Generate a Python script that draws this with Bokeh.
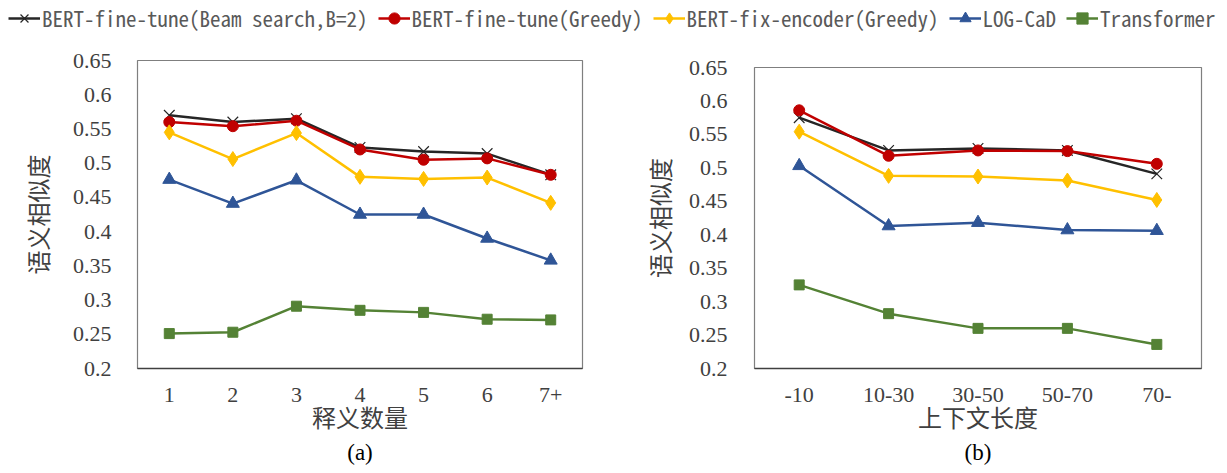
import numpy as np
from bokeh.plotting import figure
from bokeh.models import FactorRange, Range1d, FixedTicker, Legend, LegendItem, Label
from bokeh.layouts import column, row
from bokeh.embed import file_html
from bokeh.resources import INLINE

# ---------------- data ----------------
cats_a = ["1", "2", "3", "4", "5", "6", "7+"]
beam_a = [0.570, 0.560, 0.565, 0.523, 0.517, 0.514, 0.483]
greedy_a = [0.560, 0.554, 0.562, 0.520, 0.505, 0.507, 0.483]
fix_a = [0.545, 0.506, 0.544, 0.480, 0.477, 0.479, 0.442]
logcad_a = [0.476, 0.441, 0.475, 0.425, 0.425, 0.390, 0.358]
trans_a = [0.251, 0.253, 0.291, 0.285, 0.282, 0.272, 0.271]

cats_b = ["-10", "10-30", "30-50", "50-70", "70-"]
beam_b = [0.575, 0.526, 0.529, 0.526, 0.491]
greedy_b = [0.586, 0.518, 0.526, 0.525, 0.506]
fix_b = [0.554, 0.488, 0.487, 0.481, 0.452]
logcad_b = [0.503, 0.413, 0.418, 0.407, 0.406]
trans_b = [0.325, 0.282, 0.260, 0.260, 0.236]

series_names = ["BERT-fine-tune(Beam search,B=2)", "BERT-fine-tune(Greedy)",
                "BERT-fix-encoder(Greedy)", "LOG-CaD", "Transformer"]
y_ticks = [0.2, 0.25, 0.3, 0.35, 0.4, 0.45, 0.5, 0.55, 0.6, 0.65]
y_tick_labels = ["0.2", "0.25", "0.3", "0.35", "0.4", "0.45", "0.5", "0.55", "0.6", "0.65"]
y_title = "语义相似度"
x_title_a = "释义数量"
x_title_b = "上下文长度"
tag_a = "(a)"
tag_b = "(b)"

# ---------------- styles ----------------
colors = ["#262626", "#C00000", "#FFC000", "#2F5597", "#548235"]
markers = ["x", "circle", "diamond", "triangle", "square"]
msizes = [15, 11, 15, 13, 10]

SERIF = "Liberation Serif"
CJK = "Noto Sans CJK SC"
LEGEND_FONT = "Noto Sans Mono CJK SC"
TXT = "#404040"


def add_series(p, cats, values_list):
    for vals, c, m, s in zip(values_list, colors, markers, msizes):
        p.line(cats, vals, line_color=c, line_width=2.5)
        if m == "x":
            p.scatter(cats, vals, marker=m, size=s, line_color=c, line_width=1.2)
        else:
            p.scatter(cats, vals, marker=m, size=s, fill_color=c, line_color=c, line_width=1)


def make_panel(cats, values_list, xtitle, width, bl, br, bt, bb, height,
               tick_standoff, ylab_standoff):
    p = figure(width=width, height=height, x_range=FactorRange(*cats, range_padding=0),
               y_range=Range1d(0.2, 0.65), output_backend="svg", toolbar_location=None,
               min_border_left=bl, min_border_right=br, min_border_top=bt, min_border_bottom=bb)
    p.xgrid.visible = False
    p.ygrid.visible = False
    p.outline_line_color = "#7f7f7f"
    p.outline_line_width = 1.2

    p.yaxis.ticker = FixedTicker(ticks=y_ticks)
    p.yaxis.major_label_overrides = {t: l for t, l in zip(y_ticks, y_tick_labels)}
    for ax in (p.xaxis, p.yaxis):
        ax.major_tick_line_color = None
        ax.minor_tick_line_color = None
        ax.major_label_text_font = SERIF
        ax.major_label_text_font_size = "22px"
        ax.major_label_text_color = TXT
        ax.axis_label_text_font = CJK
        ax.axis_label_text_font_size = "24px"
        ax.axis_label_text_font_style = "normal"
        ax.axis_label_text_color = TXT
    p.yaxis.axis_line_color = None
    p.xaxis.axis_line_color = "#404040"
    p.xaxis.axis_line_width = 1.5
    p.yaxis.major_label_standoff = tick_standoff
    p.xaxis.major_label_standoff = 13
    p.yaxis.axis_label = y_title
    p.yaxis.axis_label_standoff = ylab_standoff
    p.xaxis.axis_label = xtitle
    p.xaxis.axis_label_standoff = -6

    add_series(p, cats, values_list)
    return p


def make_caption(width, height, frame_w, tag):
    c = figure(width=width, height=height, x_range=Range1d(0, 1), y_range=Range1d(0, 1),
               output_backend="svg", toolbar_location=None, min_border=0)
    c.xaxis.visible = False
    c.yaxis.visible = False
    c.xgrid.visible = False
    c.ygrid.visible = False
    c.outline_line_color = None
    # the caption's frame is aligned with the panel frame above it
    c.add_layout(Label(x=frame_w / 2, y=height - 14, x_units="screen", y_units="screen",
                       text=tag, text_font=SERIF, text_font_size="23px", text_color="black",
                       text_align="center", text_baseline="middle"))
    return c


# left panel: frame x 137..582, y 60..368 ; right panel: frame x 754..1201, y 67..368
LEG_H = 38
BOTTOM = 70
PANEL_H = (60 - LEG_H) + 308 + BOTTOM
CAP_H = 473 - LEG_H - PANEL_H

pa = make_panel(cats_a, [beam_a, greedy_a, fix_a, logcad_a, trans_a], x_title_a,
                610, 137, 28, 60 - LEG_H, BOTTOM, PANEL_H, 20, 15)
pb = make_panel(cats_b, [beam_b, greedy_b, fix_b, logcad_b, trans_b], x_title_b,
                617, 144, 26, 67 - LEG_H, BOTTOM, PANEL_H, 21, 9)
ca = make_caption(610, CAP_H, 445, tag_a)
cb = make_caption(617, CAP_H, 447, tag_b)

# ---------------- legend strip ----------------
lg = figure(width=1227, height=LEG_H, x_range=Range1d(0, 1), y_range=Range1d(0, 1),
            output_backend="svg", toolbar_location=None, min_border=0)
lg.xaxis.visible = False
lg.yaxis.visible = False
lg.xgrid.visible = False
lg.ygrid.visible = False
lg.outline_line_color = None
items = []
for name, c, m, s in zip(series_names, colors, markers, msizes):
    lr = lg.line([np.nan], [np.nan], line_color=c, line_width=2.5)
    if m == "x":
        sr = lg.scatter([np.nan], [np.nan], marker=m, line_color=c, line_width=1.2)
    else:
        sr = lg.scatter([np.nan], [np.nan], marker=m, fill_color=c, line_color=c)
    items.append(LegendItem(label=name, renderers=[lr, sr]))
legend = Legend(items=items, orientation="horizontal", location=(8, 5),
                glyph_width=32, glyph_height=28, label_height=28, label_standoff=2, spacing=10,
                padding=0, margin=0, border_line_color=None, background_fill_alpha=0,
                label_text_font=LEGEND_FONT, label_text_font_size="21px",
                label_text_color="#595959")
lg.add_layout(legend, "center")

layout = column(lg, row(column(pa, ca), column(pb, cb)))
open("out.html", "w").write(file_html(layout, INLINE))
